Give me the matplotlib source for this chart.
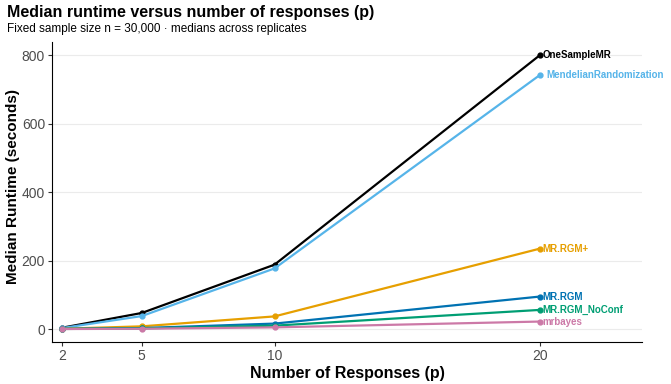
import matplotlib
matplotlib.use('Agg')
import matplotlib.pyplot as plt

plt.rcParams['font.family'] = ['Liberation Sans', 'DejaVu Sans']

# data
responses = [2, 5, 10, 20]
methods = ['OneSampleMR', 'MendelianRandomization', 'MR.RGM+', 'MR.RGM',
           'MR.RGM_NoConf', 'mrbayes']
runtimes = {
    'OneSampleMR':            [4, 47, 188, 800],
    'MendelianRandomization': [3, 38, 177, 742],
    'MR.RGM+':                [1, 8, 37, 235],
    'MR.RGM':                 [0.5, 3, 16, 95],
    'MR.RGM_NoConf':          [0.3, 2, 10, 56],
    'mrbayes':                [0.2, 1, 5, 22],
}
colors = {
    'OneSampleMR': '#000000',
    'MendelianRandomization': '#56B4E9',
    'MR.RGM+': '#E69F00',
    'MR.RGM': '#0072B2',
    'MR.RGM_NoConf': '#009E73',
    'mrbayes': '#CC79A7',
}
label_dx = {'MendelianRandomization': 0.15}

fig = plt.figure(figsize=(6.71, 3.84), dpi=100)
ax = fig.add_axes([52 / 671, 42 / 384, 590 / 671, 300 / 384])

for m in methods:
    ax.plot(responses, runtimes[m], color=colors[m], lw=1.6, marker='o',
            ms=3.5, zorder=3)
    ax.text(responses[-1] + 0.08 + label_dx.get(m, 0), runtimes[m][-1], m,
            color=colors[m], fontsize=7, fontweight='bold',
            va='center', ha='left')

ax.set_xlim(1.62, 23.84)
ax.set_ylim(-37.7, 838)
ax.set_xticks(responses)
ax.set_yticks([0, 200, 400, 600, 800])
ax.grid(axis='y', color='#EBEBEB', lw=0.8)
ax.set_axisbelow(True)
for s in ['top', 'right']:
    ax.spines[s].set_visible(False)
ax.spines['left'].set_linewidth(0.8)
ax.spines['bottom'].set_linewidth(0.8)
ax.tick_params(labelsize=10, labelcolor='#4D4D4D', color='#333333', length=3,
               pad=2)

ax.set_xlabel('Number of Responses (p)', fontsize=11.5, fontweight='bold', labelpad=2)
ax.set_ylabel('Median Runtime (seconds)', fontsize=11, fontweight='bold',
              va='center')
ax.yaxis.set_label_coords(-0.066, 0.52)

fig.text(7 / 671, 1 - 13 / 384, 'Median runtime versus number of responses (p)',
         fontsize=11.5, fontweight='bold', va='center', ha='left')
fig.text(7 / 671, 1 - 29 / 384, 'Fixed sample size n = 30,000 \u00b7 medians across replicates',
         fontsize=8.5, va='center', ha='left')

fig.savefig('out.png', dpi=100)
